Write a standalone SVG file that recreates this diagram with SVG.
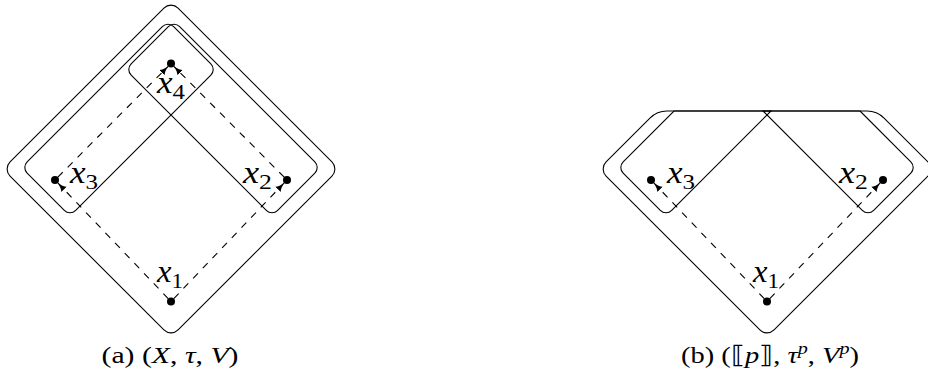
<svg xmlns="http://www.w3.org/2000/svg" width="928" height="381" viewBox="0 0 928 381">
<defs>
<style>
.shape{fill:none;stroke:#000;stroke-width:1.1}
.dash{fill:none;stroke:#000;stroke-width:1.1;stroke-dasharray:7 7;marker-end:url(#ah)}
.dot{fill:#000}
.lbl{font-family:"Liberation Serif","Times New Roman",serif;font-size:31px;font-style:italic;fill:#000}
.sub{font-size:22px;font-style:normal}
.cap{font-family:"Liberation Serif","DejaVu Serif",serif;font-size:24px;fill:#000}
.it{font-style:italic}
.sup{font-size:17px}
</style>
<marker id="ah" markerUnits="userSpaceOnUse" markerWidth="9" markerHeight="9" refX="9" refY="4.5" orient="auto" viewBox="0 0 9 9">
<path d="M0,0.8 Q3,3.5 9,4.5 Q3,5.5 0,8.2 Z" fill="#000"/>
</marker>
</defs>
<rect width="928" height="381" fill="#fff"/>

<g id="a-outer"><rect class="shape" x="-118.8" y="-118.8" width="237.6" height="237.6" rx="10" transform="translate(171,169) rotate(45)"/></g>
<g id="a-set34"><rect class="shape" x="-103.6" y="-34.3" width="207.2" height="68.6" rx="8" transform="translate(119,118.5) rotate(-45)"/></g>
<g id="a-set24"><rect class="shape" x="-103.6" y="-34.3" width="207.2" height="68.6" rx="8" transform="translate(223,118.5) rotate(45)"/></g>

<g id="a-connectors">
<path class="dash" d="M168.2,298.6 L57.8,182.9"/>
<path class="dash" d="M173.8,298.6 L284.2,182.9"/>
<path class="dash" d="M57.8,177.2 L168.2,66.3"/>
<path class="dash" d="M284.2,177.2 L173.8,66.3"/>
</g>

<g id="a-x1"><circle class="dot" cx="171" cy="301.5" r="4"/><text class="lbl" x="157" y="282" textLength="26" lengthAdjust="spacingAndGlyphs">x<tspan class="sub" dy="6">1</tspan></text></g>
<g id="a-x2"><circle class="dot" cx="287" cy="180" r="4"/><text class="lbl" x="243" y="183" textLength="29" lengthAdjust="spacingAndGlyphs">x<tspan class="sub" dy="6">2</tspan></text></g>
<g id="a-x3"><circle class="dot" cx="55" cy="180" r="4"/><text class="lbl" x="70" y="183" textLength="28" lengthAdjust="spacingAndGlyphs">x<tspan class="sub" dy="6">3</tspan></text></g>
<g id="a-x4"><circle class="dot" cx="171" cy="63.5" r="4"/><text class="lbl" x="157" y="93" textLength="28" lengthAdjust="spacingAndGlyphs">x<tspan class="sub" dy="6">4</tspan></text></g>

<text class="cap" x="170" y="363" text-anchor="middle" textLength="137" lengthAdjust="spacingAndGlyphs">(a) (<tspan class="it">X</tspan>, <tspan class="it">τ</tspan>, <tspan class="it">V</tspan>)</text>

<g id="b-outer"><path class="shape" d="M667,111 H867 A24.1,24.1 0 0 1 884.07,118.07 L927.93,161.93 A10,10 0 0 1 927.93,176.07 L774.07,329.93 A10,10 0 0 1 759.93,329.93 L606.07,176.07 A10,10 0 0 1 606.07,161.93 L649.93,118.07 A24.1,24.1 0 0 1 667,111 Z"/></g>
<g id="b-set3"><path class="shape" d="M674,111 H771 L671.66,210.34 A8,8 0 0 1 660.34,210.34 L623.16,173.16 A8,8 0 0 1 623.16,161.84 Z"/></g>
<g id="b-set2"><path class="shape" d="M860,111 L910.84,161.84 A8,8 0 0 1 910.84,173.16 L873.66,210.34 A8,8 0 0 1 862.34,210.34 L763,111 Z"/></g>

<g id="b-connectors">
<path class="dash" d="M764.2,298.6 L653.8,182.9"/>
<path class="dash" d="M769.8,298.6 L880.2,182.9"/>
</g>

<g id="b-x1"><circle class="dot" cx="767" cy="301.5" r="4"/><text class="lbl" x="753" y="282" textLength="26" lengthAdjust="spacingAndGlyphs">x<tspan class="sub" dy="6">1</tspan></text></g>
<g id="b-x2"><circle class="dot" cx="883" cy="180" r="4"/><text class="lbl" x="839" y="183" textLength="29" lengthAdjust="spacingAndGlyphs">x<tspan class="sub" dy="6">2</tspan></text></g>
<g id="b-x3"><circle class="dot" cx="651" cy="180" r="4"/><text class="lbl" x="667" y="183" textLength="28" lengthAdjust="spacingAndGlyphs">x<tspan class="sub" dy="6">3</tspan></text></g>

<text class="cap" x="770" y="363" text-anchor="middle" textLength="178" lengthAdjust="spacingAndGlyphs">(b) (⟦<tspan class="it">p</tspan>⟧, <tspan class="it">τ</tspan><tspan class="it sup" dy="-9">p</tspan><tspan dy="9">, </tspan><tspan class="it">V</tspan><tspan class="it sup" dy="-9">p</tspan><tspan dy="9">)</tspan></text>
</svg>
